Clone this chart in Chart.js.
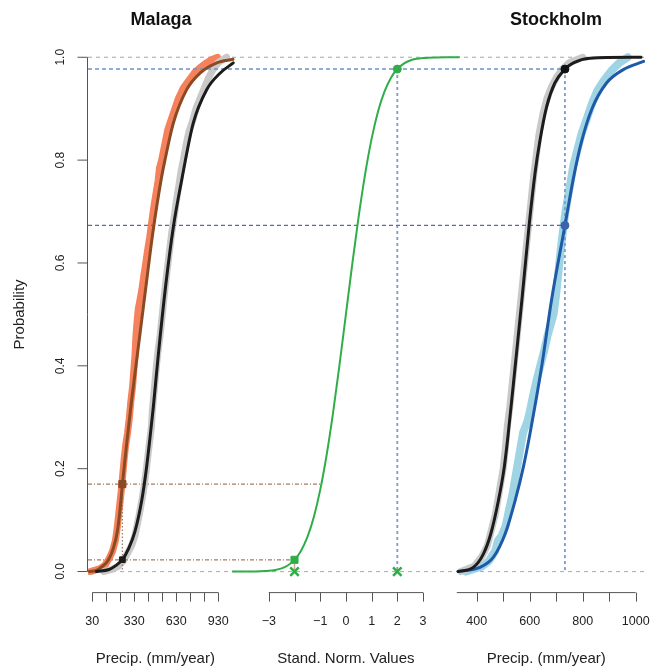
<!DOCTYPE html>
<html>
<head>
<meta charset="utf-8">
<title>Malaga / Stockholm precipitation CDF</title>
<script src="https://cdn.jsdelivr.net/npm/chart.js@4.4.0/dist/chart.umd.min.js"></script>
<style>
  html, body { margin: 0; padding: 0; background: #fff; }
  #wrap { width: 661px; height: 671px; }
</style>
</head>
<body>
<div id="wrap"><canvas id="cdf" width="661" height="671"></canvas></div>
<script>
// ---- Malaga (mm/year) ----
const malagaObsX = [110, 170, 215, 250, 280, 310, 335, 350, 365, 385, 400, 412, 425, 438, 452, 458, 468, 478, 488, 500, 515, 530, 545, 562, 580, 598, 615, 630, 648, 665, 680, 700, 720, 745, 770, 800, 830, 860, 890, 930, 990];
const malagaObsY = [0.0, 0.004, 0.01, 0.02, 0.035, 0.05, 0.07, 0.09, 0.11, 0.14, 0.165, 0.19, 0.22, 0.25, 0.28, 0.31, 0.34, 0.37, 0.40, 0.43, 0.46, 0.50, 0.54, 0.58, 0.62, 0.66, 0.69, 0.72, 0.75, 0.78, 0.80, 0.83, 0.855, 0.875, 0.90, 0.92, 0.94, 0.96, 0.975, 0.99, 1.0];
const malagaFitX = [60, 150, 200, 245, 290, 335, 383, 414, 442, 466, 501, 556, 609, 669, 751, 847, 942, 1037];
const malagaFitY = [0.0, 0.004, 0.012, 0.023, 0.045, 0.078, 0.138, 0.195, 0.26, 0.32, 0.42, 0.56, 0.67, 0.762, 0.872, 0.937, 0.969, 0.989];
const malagaAdjObsX = [15, 80, 120, 150, 175, 195, 208, 218, 228, 238, 248, 258, 268, 282, 295, 305, 318, 326, 335, 340, 348, 358, 372, 385, 398, 412, 425, 440, 455, 470, 485, 500, 510, 525, 540, 555, 570, 595, 620, 645, 680, 720, 760, 800, 850, 880, 925];
const malagaAdjObsY = [0.0, 0.005, 0.012, 0.025, 0.04, 0.06, 0.085, 0.11, 0.135, 0.16, 0.19, 0.22, 0.245, 0.27, 0.30, 0.33, 0.36, 0.39, 0.42, 0.45, 0.48, 0.51, 0.53, 0.55, 0.575, 0.60, 0.625, 0.65, 0.68, 0.71, 0.735, 0.76, 0.785, 0.80, 0.82, 0.84, 0.86, 0.88, 0.90, 0.92, 0.94, 0.955, 0.97, 0.98, 0.99, 0.995, 1.0];
const malagaAdjFitX = [10, 60, 97, 144, 180, 210, 230, 245, 276, 311, 359, 419, 463, 521, 549, 609, 704, 799, 919, 1035];
const malagaAdjFitY = [0.0, 0.002, 0.009, 0.022, 0.045, 0.08, 0.125, 0.17, 0.25, 0.333, 0.437, 0.567, 0.66, 0.761, 0.80, 0.872, 0.937, 0.969, 0.989, 0.996];
const malagaTicks = [30, 130, 230, 330, 430, 530, 630, 730, 830, 930];
const malagaLabels = [30, 330, 630, 930];

// ---- standard normal ----
const normZ = [-4.4, -4, -3.5, -3, -2.75, -2.5, -2.25, -2, -1.75, -1.5, -1.25, -1, -0.75, -0.5, -0.25, 0, 0.25, 0.5, 0.75, 1, 1.25, 1.5, 1.75, 2, 2.25, 2.5, 2.75, 3, 3.5, 4, 4.4];
const normP = [0.0000054, 0.00003, 0.00023, 0.00135, 0.0030, 0.0062, 0.0122, 0.0228, 0.0401, 0.0668, 0.1056, 0.1587, 0.2266, 0.3085, 0.4013, 0.5, 0.5987, 0.6915, 0.7734, 0.8413, 0.8944, 0.9332, 0.9599, 0.9772, 0.9878, 0.9938, 0.9970, 0.99865, 0.99977, 0.99997, 0.999995];
const zTicks = [-3, -2, -1, 0, 1, 2, 3];
const zLabels = [-3, -1, 0, 1, 2, 3];

// ---- Stockholm (mm/year) ----
const stockObsX = [340, 390, 420, 440, 455, 470, 480, 490, 500, 508, 515, 525, 535, 545, 555, 565, 575, 585, 595, 605, 615, 625, 635, 650, 665, 680, 700, 720, 750, 800];
const stockObsY = [0.0, 0.01, 0.03, 0.05, 0.08, 0.11, 0.14, 0.17, 0.20, 0.24, 0.28, 0.32, 0.37, 0.42, 0.47, 0.52, 0.57, 0.62, 0.67, 0.72, 0.77, 0.81, 0.85, 0.89, 0.92, 0.94, 0.96, 0.975, 0.99, 1.0];
const stockFitX = [330, 387, 425, 453, 482, 504, 519, 545, 571, 598, 620, 639, 664, 695, 733, 765, 828, 1020];
const stockFitY = [0.0, 0.008, 0.034, 0.073, 0.138, 0.203, 0.268, 0.398, 0.53, 0.674, 0.774, 0.839, 0.904, 0.950, 0.977, 0.989, 0.998, 1.0];
const stockAdjObsX = [360, 420, 445, 470, 480, 495, 510, 522, 535, 545, 555, 565, 575, 590, 600, 612, 625, 640, 655, 668, 690, 700, 708, 716, 725, 735, 745, 755, 765, 780, 795, 815, 835, 855, 880, 910, 940, 970];
const stockAdjObsY = [0.0, 0.01, 0.02, 0.04, 0.06, 0.07, 0.09, 0.12, 0.15, 0.18, 0.21, 0.24, 0.27, 0.29, 0.31, 0.34, 0.37, 0.40, 0.43, 0.46, 0.50, 0.54, 0.58, 0.62, 0.66, 0.70, 0.73, 0.76, 0.79, 0.82, 0.85, 0.88, 0.91, 0.935, 0.955, 0.975, 0.99, 1.0];
const stockAdjFitX = [330, 412, 463, 507, 545, 576, 601, 645, 683, 733, 765, 795, 835, 890, 953, 1030];
const stockAdjFitY = [0.0, 0.008, 0.028, 0.073, 0.138, 0.203, 0.268, 0.398, 0.53, 0.673, 0.765, 0.835, 0.90, 0.95, 0.976, 0.992];
const stockTicks = [400, 500, 600, 700, 800, 900, 1000];
const stockLabels = [400, 600, 800, 1000];
const stockAxisStart = 325;

// ---- quantile mapping points ----
const malagaPick = 245;          // Malaga value read at the squares
const malagaPickP = [0.17, 0.023];
const zPick = [-2, 2];
const zPickP = [0.0228, 0.977];
const zAt017 = -0.954;
const stockPick = 733;
const stockPickP = [0.977, 0.673];

const probTicks = [0, 0.2, 0.4, 0.6, 0.8, 1.0];

// scale limits (so each block lands in its place on the shared canvas)
const MAL_MIN = -0.7, MAL_MAX = 3977.9;
const Z_MIN = -10.035, Z_MAX = 11.638;
const STO_MIN = -1066.8, STO_MAX = 1035.1;

const pts = (xs, ys) => xs.map((x, i) => ({ x: x, y: ys[i] }));

const lineSet = (data, axis, color, width, extra) => Object.assign({
  data: data, xAxisID: axis, yAxisID: 'y',
  borderColor: color, backgroundColor: color, borderWidth: width,
  pointRadius: 0, fill: false, tension: 0,
  borderJoinStyle: 'round', borderCapStyle: 'round'
}, extra || {});

const markSet = (data, axis, color, style, radius, extra) => Object.assign({
  data: data, xAxisID: axis, yAxisID: 'y', showLine: false,
  pointStyle: style, pointRadius: radius, pointBorderWidth: 1,
  pointBackgroundColor: color, pointBorderColor: color, order: 0
}, extra || {});

const smooth = { cubicInterpolationMode: 'monotone', order: 2 };
const band = { order: 4 };

const datasets = [
  // reference lines
  lineSet([{ x: MAL_MIN, y: 0 }, { x: MAL_MAX, y: 0 }], 'xm', '#b4b4b4', 1.2, { borderDash: [4, 4], order: 5, borderCapStyle: 'butt' }),
  lineSet([{ x: MAL_MIN, y: 1 }, { x: MAL_MAX, y: 1 }], 'xm', '#b4b4b4', 1.2, { borderDash: [4, 4], order: 5, borderCapStyle: 'butt' }),
  lineSet([{ x: STO_MIN, y: stockPickP[0] }, { x: stockPick, y: stockPickP[0] }], 'xs', '#6f93c8', 1.5, { borderDash: [4, 3], order: 3, borderCapStyle: 'butt' }),
  lineSet([{ x: STO_MIN, y: stockPickP[1] }, { x: stockPick, y: stockPickP[1] }], 'xs', '#56709c', 1.2, { borderDash: [4, 3], order: 3, borderCapStyle: 'butt' }),
  lineSet([{ x: stockPick, y: stockPickP[0] }, { x: stockPick, y: 0 }], 'xs', '#7a9bcc', 1.8, { borderDash: [3, 3], order: 3, borderCapStyle: 'butt' }),
  lineSet([{ x: zPick[1], y: zPickP[1] }, { x: zPick[1], y: 0 }], 'xz', '#7a9bcc', 1.8, { borderDash: [3, 3], order: 3, borderCapStyle: 'butt' }),
  lineSet([{ x: Z_MIN, y: malagaPickP[0] }, { x: zAt017, y: malagaPickP[0] }], 'xz', '#a47c66', 1.3, { borderDash: [4, 2, 1, 2], order: 3, borderCapStyle: 'butt' }),
  lineSet([{ x: Z_MIN, y: zPickP[0] }, { x: zPick[0], y: zPickP[0] }], 'xz', '#a47c66', 1.3, { borderDash: [4, 2, 1, 2], order: 3, borderCapStyle: 'butt' }),
  lineSet([{ x: malagaPick, y: malagaPickP[0] }, { x: malagaPick, y: 0 }], 'xm', '#a47c66', 1.3, { borderDash: [1.5, 2], order: 3, borderCapStyle: 'butt' }),
  lineSet([{ x: zPick[0], y: zPickP[0] }, { x: zPick[0], y: 0 }], 'xz', '#c9a79c', 1.5, { order: 3, borderCapStyle: 'butt' }),

  // observed (thick) and fitted curves
  lineSet(pts(malagaObsX, malagaObsY), 'xm', '#c9c9c9', 7, band),
  lineSet(pts(malagaAdjObsX, malagaAdjObsY), 'xm', '#f5825c', 7, band),
  lineSet(pts(malagaFitX, malagaFitY), 'xm', '#1c1c1c', 3, smooth),
  lineSet(pts(malagaAdjFitX, malagaAdjFitY), 'xm', '#8b4a22', 3, smooth),
  lineSet(pts(normZ, normP), 'xz', '#2fae48', 2, smooth),
  lineSet(pts(stockObsX, stockObsY), 'xs', '#c9c9c9', 7, band),
  lineSet(pts(stockAdjObsX, stockAdjObsY), 'xs', '#9fd4e4', 8, band),
  lineSet(pts(stockFitX, stockFitY), 'xs', '#1c1c1c', 3, smooth),
  lineSet(pts(stockAdjFitX, stockAdjFitY), 'xs', '#1f5aa8', 3, smooth),

  // markers
  markSet([{ x: malagaPick, y: malagaPickP[0] }], 'xm', '#8b4a22', 'rect', 5),
  markSet([{ x: malagaPick, y: malagaPickP[1] }], 'xm', '#1c1c1c', 'rect', 4),
  markSet([{ x: zPick[0], y: zPickP[0] }], 'xz', '#2fae48', 'rect', 5),
  markSet([{ x: zPick[1], y: zPickP[1] }], 'xz', '#2fae48', 'circle', 4),
  markSet(zPick.map(z => ({ x: z, y: 0 })), 'xz', '#2fae48', 'crossRot', 6, { pointBorderWidth: 2.5 }),
  markSet([{ x: stockPick, y: stockPickP[0] }], 'xs', '#111111', 'circle', 4),
  markSet([{ x: stockPick, y: stockPickP[1] }], 'xs', '#3d62b0', 'circle', 4)
];

const FONT = '"Liberation Sans", Arial, Helvetica, sans-serif';

const rAxes = {
  id: 'rAxes',
  afterDraw(chart) {
    const ctx = chart.ctx, a = chart.chartArea;
    const s = chart.scales;
    const seg = (x1, y1, x2, y2) => { ctx.beginPath(); ctx.moveTo(x1, y1); ctx.lineTo(x2, y2); ctx.stroke(); };
    ctx.save();
    ctx.strokeStyle = '#555';
    ctx.lineWidth = 1;
    ctx.fillStyle = '#222';

    // y axis
    const yx = a.left - 0.5;
    seg(yx, s.y.getPixelForValue(0), yx, s.y.getPixelForValue(1));
    ctx.font = '12px ' + FONT;
    ctx.textAlign = 'center';
    ctx.textBaseline = 'middle';
    probTicks.forEach(t => {
      const py = s.y.getPixelForValue(t);
      seg(yx - 10, py, yx, py);
      ctx.save();
      ctx.translate(yx - 27, py);
      ctx.rotate(-Math.PI / 2);
      ctx.fillText(t.toFixed(1), 0, 0);
      ctx.restore();
    });
    ctx.save();
    ctx.font = '15px ' + FONT;
    ctx.translate(20, (s.y.getPixelForValue(0) + s.y.getPixelForValue(1)) / 2);
    ctx.rotate(-Math.PI / 2);
    ctx.fillText('Probability', 0, 0);
    ctx.restore();

    // x axes
    const axisY = a.bottom + 0.5;
    const drawX = (scale, from, ticks, labels, title) => {
      seg(scale.getPixelForValue(from), axisY, scale.getPixelForValue(ticks[ticks.length - 1]), axisY);
      ticks.forEach(t => {
        const px = Math.round(scale.getPixelForValue(t)) + 0.5;
        seg(px, axisY, px, axisY + 9);
      });
      ctx.font = '12.5px ' + FONT;
      labels.forEach(l => {
        ctx.fillText(l < 0 ? '\u2212' + Math.abs(l) : String(l), scale.getPixelForValue(l), 622);
      });
      ctx.font = '15px ' + FONT;
      const mid = (scale.getPixelForValue(from) + scale.getPixelForValue(ticks[ticks.length - 1])) / 2;
      ctx.fillText(title, mid, 659);
    };
    drawX(s.xm, malagaTicks[0], malagaTicks, malagaLabels, 'Precip. (mm/year)');
    drawX(s.xz, zTicks[0], zTicks, zLabels, 'Stand. Norm. Values');
    drawX(s.xs, stockAxisStart, stockTicks, stockLabels, 'Precip. (mm/year)');

    // titles
    ctx.font = 'bold 18px ' + FONT;
    ctx.fillStyle = '#111';
    ctx.fillText('Malaga', 161, 20);
    ctx.fillText('Stockholm', 556, 20);
    ctx.restore();
  }
};

const hidden = (min, max) => ({ type: 'linear', axis: 'x', position: 'bottom', display: false, min: min, max: max });

new Chart(document.getElementById('cdf').getContext('2d'), {
  type: 'line',
  data: { datasets: datasets },
  options: {
    responsive: false,
    animation: false,
    parsing: true,
    layout: { padding: { left: 88, right: 16, top: 36.7, bottom: 78.9 } },
    scales: {
      xm: hidden(MAL_MIN, MAL_MAX),
      xz: hidden(Z_MIN, Z_MAX),
      xs: hidden(STO_MIN, STO_MAX),
      y: { type: 'linear', position: 'left', display: false, min: -0.04, max: 1.04 }
    },
    plugins: { legend: { display: false }, tooltip: { enabled: false }, title: { display: false } }
  },
  plugins: [rAxes]
});
</script>
</body>
</html>
